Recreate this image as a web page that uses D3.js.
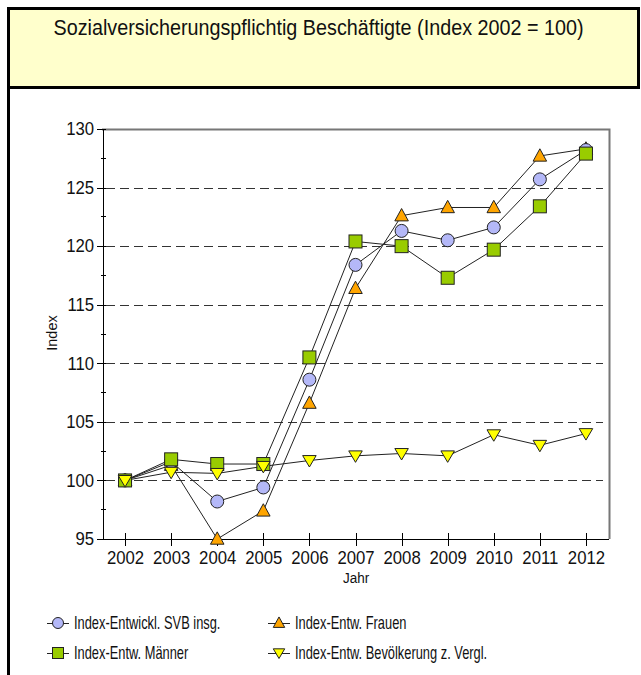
<!DOCTYPE HTML>
<html>
<head>
  <meta charset="utf-8">
  <title>SVB Index</title>
  <script src="https://d3js.org/d3.v7.min.js" type="text/javascript"></script>
<style>
body { margin: 0; background: #fff; }
text { font-family: "Liberation Sans", Arial, sans-serif; fill: #111; }
.axis path, .axis line { stroke: #000; stroke-width: 1; shape-rendering: crispEdges; }
.grid line { stroke: #333; stroke-dasharray: 9,5; shape-rendering: crispEdges; }
.series { fill: none; stroke: #222; stroke-width: 1; }
</style>
</head>
<body>
<script>
const years = ["2002", "2003", "2004", "2005", "2006", "2007", "2008", "2009", "2010", "2011", "2012"]
const svbInsg = [100, 101.6, 98.2, 99.4, 108.6, 118.4, 121.3, 120.5, 121.6, 125.7, 128.2]
const frauen = [100, 101.3, 95.0, 97.4, 106.6, 116.4, 122.6, 123.3, 123.3, 127.7, 128.3]
const maenner = [100, 101.8, 101.4, 101.4, 110.5, 120.4, 120.0, 117.3, 119.7, 123.4, 127.9]
const bevoelkerung = [100, 100.7, 100.6, 101.2, 101.7, 102.1, 102.3, 102.1, 103.9, 103.0, 104.0]
const yTicks = [95, 100, 105, 110, 115, 120, 125, 130]

const series = [
  {name: "Index-Entwickl. SVB insg.", values: svbInsg, shape: "circle", color: "#b4b8f8"},
  {name: "Index-Entw. Frauen", values: frauen, shape: "up", color: "#ffa500"},
  {name: "Index-Entw. Männer", values: maenner, shape: "square", color: "#99cc00"},
  {name: "Index-Entw. Bevölkerung z. Vergl.", values: bevoelkerung, shape: "down", color: "#ffff00"}
]
const drawOrder = [1, 0, 2, 3]

const W = 641, H = 675
const svg = d3.select("body").append("svg").attr("width", W).attr("height", H)

// title box and frame
svg.append("rect").attr("x", 8.5).attr("y", 8.5).attr("width", 630).attr("height", 79)
  .attr("fill", "#ffffcc").attr("stroke", "#000").attr("stroke-width", 3)
svg.append("line").attr("x1", 8.5).attr("x2", 8.5).attr("y1", 88).attr("y2", H)
  .attr("stroke", "#000").attr("stroke-width", 3)
svg.append("text").attr("transform", "translate(318.5,35) scale(0.92,1)").attr("text-anchor", "middle")
  .style("font-size", "21.5px").text("Sozialversicherungspflichtig Beschäftigte (Index 2002 = 100)")

const pLeft = 102, pRight = 609, pTop = 129, pBottom = 539
const x = d3.scalePoint().domain(years).range([pLeft, pRight]).padding(0.5)
const y = d3.scaleLinear().domain([95, 130]).range([pBottom, pTop])

// grid
svg.append("g").attr("class", "grid").selectAll("line")
  .data(yTicks.filter(d => d > 95 && d < 130)).enter().append("line")
  .attr("x1", pLeft + 4).attr("x2", pRight - 6)
  .attr("y1", d => Math.round(y(d)) + 0.5).attr("y2", d => Math.round(y(d)) + 0.5)

// top and right frame
svg.append("path").attr("d", "M" + pLeft + "," + (pTop + 0.5) + "H" + (pRight + 0.5) + "V" + pBottom)
  .attr("fill", "none").attr("stroke", "#777").attr("stroke-width", 2)

// axes
const yAxis = svg.append("g").attr("class", "axis")
  .attr("transform", "translate(" + (pLeft + 0.5) + ",0)")
  .call(d3.axisLeft(y).tickValues(yTicks).tickSizeInner(6).tickSizeOuter(0).tickPadding(3))
yAxis.selectAll(".tick line").attr("x2", -6).attr("x1", 3)
yAxis.selectAll("text").style("font-size", "18px").attr("transform", "scale(0.93,1)")
svg.append("g").attr("class", "axis")
  .attr("transform", "translate(" + (pLeft + 0.5) + ",0)")
  .selectAll("line").data(d3.range(97.5, 130, 5)).enter().append("line")
  .attr("x1", -2).attr("x2", 3).attr("y1", d => y(d)).attr("y2", d => y(d))

const xAxis = svg.append("g").attr("class", "axis")
  .attr("transform", "translate(0," + (pBottom + 0.5) + ")")
  .call(d3.axisBottom(x).tickSizeInner(6).tickSizeOuter(0).tickPadding(6))
xAxis.select(".domain").attr("d", "M" + pLeft + ",0H" + pRight)
xAxis.selectAll(".tick line").attr("y1", -7).attr("y2", 6)
xAxis.selectAll("text").style("font-size", "18px").attr("transform", "scale(0.93,1)")

svg.append("text").attr("transform", "translate(356,583) scale(0.93,1)").attr("text-anchor", "middle")
  .style("font-size", "14.5px").text("Jahr")
svg.append("text").attr("transform", "translate(57,333) rotate(-90)").attr("text-anchor", "middle")
  .style("font-size", "14.5px").text("Index")

function marker(g, shape, color, s) {
  let m
  if (shape === "circle") m = g.append("circle").attr("r", s * 0.5)
  else if (shape === "square") m = g.append("rect").attr("x", -s / 2).attr("y", -s / 2).attr("width", s).attr("height", s)
  else if (shape === "up") m = g.append("path").attr("d", "M0," + (-s * 0.55) + "L" + (s * 0.52) + "," + (s * 0.4) + "L" + (-s * 0.52) + "," + (s * 0.4) + "Z")
  else m = g.append("path").attr("d", "M0," + (s * 0.5) + "L" + (s * 0.52) + "," + (-s * 0.38) + "L" + (-s * 0.52) + "," + (-s * 0.38) + "Z")
  m.attr("fill", color).attr("stroke", "#222").attr("stroke-width", 1)
}

const line = d3.line().x((d, i) => x(years[i])).y(d => y(d))
drawOrder.forEach(function(k) {
  const s = series[k]
  svg.append("path").attr("class", "series").attr("d", line(s.values))
})
drawOrder.forEach(function(k) {
  const s = series[k]
  s.values.forEach(function(v, i) {
    const g = svg.append("g").attr("transform", "translate(" + x(years[i]) + "," + y(v) + ")")
    marker(g, s.shape, s.color, 13)
  })
})

// legend
const legendPos = [[47, 623], [268, 623], [47, 653], [268, 653]]
series.forEach(function(s, j) {
  const px = legendPos[j][0], py = legendPos[j][1]
  const g = svg.append("g").attr("transform", "translate(" + px + "," + py + ")")
  g.append("line").attr("x1", 0).attr("x2", 22).attr("y1", 0.5).attr("y2", 0.5).attr("stroke", "#222")
  const mg = g.append("g").attr("transform", "translate(11,0)")
  marker(mg, s.shape, s.color, 11)
  g.append("text").attr("transform", "translate(27,6) scale(0.735,1)")
    .style("font-size", "17.5px").text(s.name)
})
</script>
</body>
</html>
